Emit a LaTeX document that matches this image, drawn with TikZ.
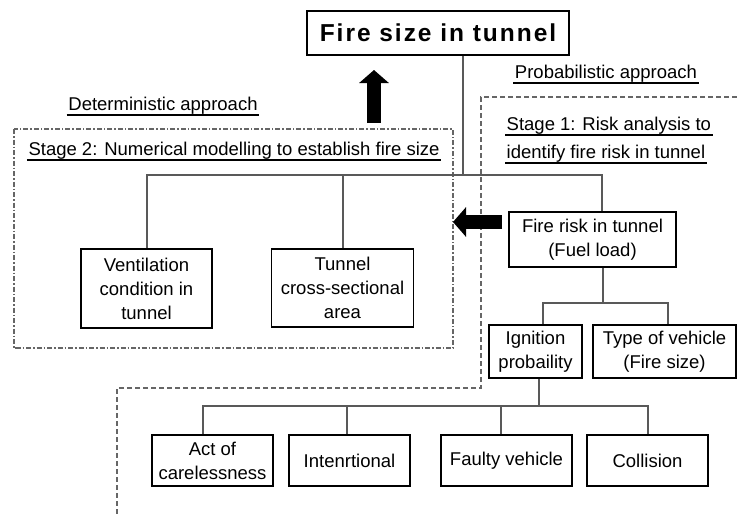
\documentclass[tikz,border=0pt]{standalone}
\usepackage{fontspec}
\setmainfont{Liberation Sans}
\usetikzlibrary{arrows.meta}

\tikzset{
    box/.style={draw, line width=1.5pt, align=center, inner sep=0pt, font=\fontsize{18.5}{24}\selectfont},
    link/.style={draw=black!65, line width=2pt},
    headtext/.style={anchor=base, inner xsep=1.5pt, inner ysep=1pt, text depth=4pt, font=\fontsize{18.5}{24}\selectfont},
    uline/.style={line width=1.5pt},
    fat/.style={line width=14pt, -{Triangle[width=29pt,length=13pt]}},
    region/.style={draw=black!60, line width=1.7pt, dash pattern=on 5pt off 3pt},
    stagebox/.style={draw=black!60, line width=1.7pt, dash pattern=on 5pt off 2pt on 1.5pt off 2pt},
}

\begin{document}
\begin{tikzpicture}[x=1pt, y=-1pt]
        \useasboundingbox (0,0) rectangle (737,514);
        % the two approaches
        \draw[stagebox] (14,129) rectangle (453,348);
        \draw[region] (737,97) -- (481,97) -- (481,388) -- (117,388) -- (117,514);

        \node[box, minimum width=262pt, minimum height=44pt, font=\fontsize{24.5}{28}\selectfont\bfseries\addfontfeature{LetterSpace=8}] (title) at (438,33) {Fire size in tunnel};

        \node[headtext] (prob) at (606,78) {Probabilistic approach};
        \node[headtext] (det) at (163,110) {Deterministic approach};
        \node[headtext] (stagetwo) at (234,155) {Stage 2: Numerical modelling to establish fire size};
        \node[headtext, anchor=base west] (stageonea) at (505,130) {Stage 1: Risk analysis to};
        \node[headtext, anchor=base west] (stageoneb) at (505,158) {identify fire risk in tunnel};
        \foreach \n in {prob,det,stagetwo,stageonea,stageoneb}
            \draw[uline] (\n.south west) -- (\n.south east);

        \node[box, minimum width=131pt, minimum height=79pt] (vent) at (146.5,288.5) {Ventilation\\condition in\\tunnel};
        \node[box, minimum width=142pt, minimum height=78pt] (area) at (342.5,288) {Tunnel\\cross-sectional\\area};
        \node[box, minimum width=167pt, minimum height=55pt] (risk) at (592.5,239.5) {Fire risk in tunnel\\(Fuel load)};
        \node[box, minimum width=93pt, minimum height=53pt] (ignition) at (535.5,351.5) {Ignition\\probaility};
        \node[box, minimum width=143pt, minimum height=53pt] (vehicle) at (664.5,351.5) {Type of vehicle\\(Fire size)};
        \node[box, minimum width=121pt, minimum height=51pt] (careless) at (212.5,460.5) {Act of\\carelessness};
        \node[box, minimum width=121pt, minimum height=51pt] (intent) at (349.5,460.5) {Intenrtional};
        \node[box, minimum width=131pt, minimum height=51pt] (faulty) at (506.5,460.5) {Faulty vehicle};
        \node[box, minimum width=121pt, minimum height=51pt] (collision) at (647.5,460.5) {Collision};

        \coordinate (hub) at (463,175);
        \coordinate (riskfoot) at (603,303);
        \coordinate (ignfoot) at (539,406);
        \draw[link] (title.south -| hub) -- (hub);
        \draw[link] (vent.north) |- (hub) -| ([xshift=9pt]risk.north);
        \draw[link] (area.north) -- (area.north |- hub);
        \draw[link] ([xshift=10.5pt]risk.south) -- (riskfoot);
        \draw[link] ([xshift=7.5pt]ignition.north) |- (riskfoot) -| ([xshift=3.5pt]vehicle.north);
        \draw[link] ([xshift=3.5pt]ignition.south) -- (ignfoot);
        \draw[link] ([xshift=-9.5pt]careless.north) |- (ignfoot) -| (collision.north);
        \draw[link] ([xshift=-2.5pt]intent.north) -- ([xshift=-2.5pt]intent.north |- ignfoot);
        \draw[link] ([xshift=-5.5pt]faulty.north) -- ([xshift=-5.5pt]faulty.north |- ignfoot);

        \coordinate (upfoot) at (374,123);
        \coordinate (uptip) at (374,70);
        \draw[fat] (upfoot) -- (uptip);
        \coordinate (leftfoot) at (502,222);
        \coordinate (lefttip) at (453,222);
        \draw[fat] (leftfoot) -- (lefttip);
\end{tikzpicture}
\end{document}
